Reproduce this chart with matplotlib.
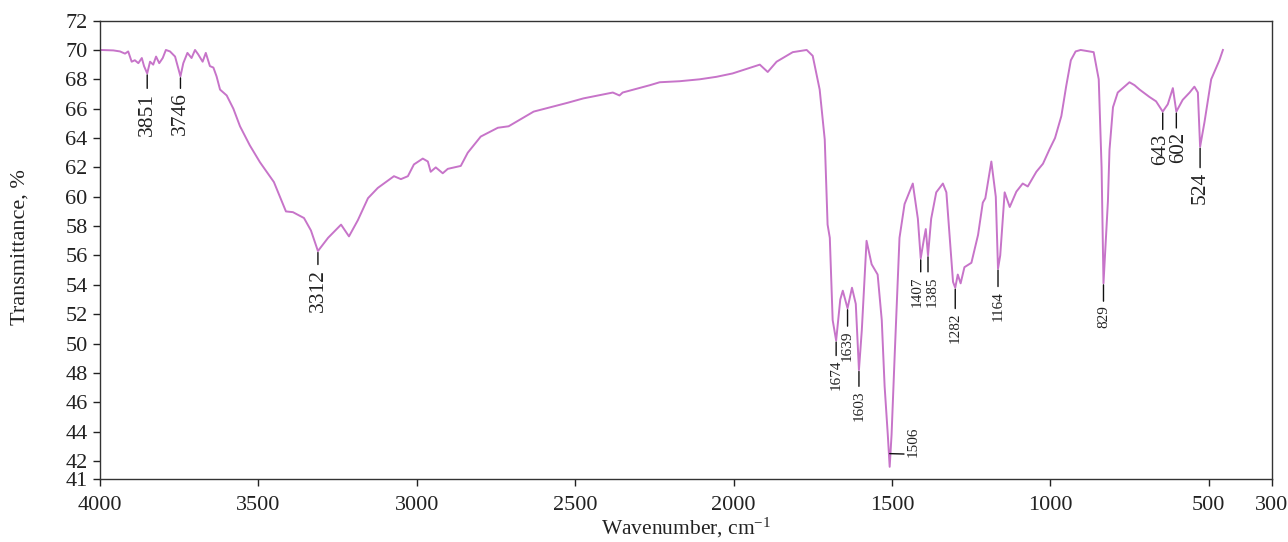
import numpy as np
import matplotlib
matplotlib.use("Agg")
import matplotlib.pyplot as plt

# ---------------- data ----------------
wavenumber = [
    4000, 3958, 3937, 3921, 3911, 3900, 3890, 3879, 3868, 3861, 3851, 3842,
    3832, 3823, 3813, 3802, 3792, 3779, 3763, 3746, 3737, 3724, 3711, 3700,
    3690, 3676, 3666, 3653, 3642, 3632, 3621, 3600, 3579, 3558, 3527, 3495,
    3451, 3413, 3391, 3356, 3334, 3312, 3280, 3239, 3214, 3186, 3154, 3123,
    3072, 3050, 3028, 3009, 2981, 2965, 2956, 2940, 2918, 2902, 2861, 2839,
    2798, 2744, 2710, 2631, 2524, 2474, 2381, 2360, 2350, 2264, 2233, 2170,
    2107, 2054, 2003, 1949, 1917, 1892, 1864, 1813, 1769, 1750, 1728, 1712,
    1703, 1696, 1687, 1676, 1663, 1655, 1640, 1626, 1614, 1604, 1595, 1580,
    1564, 1545, 1532, 1523, 1513, 1507, 1501, 1491, 1476, 1460, 1434, 1418,
    1409, 1399, 1393, 1386, 1376, 1360, 1339, 1328, 1318, 1307, 1300, 1292,
    1283, 1271, 1249, 1228, 1213, 1205, 1186, 1172, 1165, 1158, 1144, 1128,
    1107, 1087, 1071, 1044, 1023, 1002, 985, 965, 950, 935, 920, 904, 863,
    847, 838, 832, 818, 813, 802, 787, 750, 734, 718, 687, 666, 645, 629, 613,
    602, 582, 560, 545, 534, 527, 513, 492, 466, 455,
]
transmittance = [
    70.0, 69.97, 69.9, 69.75, 69.9, 69.2, 69.3, 69.1, 69.45, 68.9, 68.4, 69.2,
    69.0, 69.55, 69.1, 69.45, 70.0, 69.9, 69.55, 68.2, 69.1, 69.8, 69.45, 70.0,
    69.7, 69.2, 69.8, 68.9, 68.8, 68.2, 67.3, 66.9, 66.0, 64.8, 63.5, 62.35,
    61.0, 59.0, 58.95, 58.55, 57.7, 56.3, 57.2, 58.1, 57.3, 58.4, 59.9, 60.6,
    61.4, 61.2, 61.4, 62.2, 62.6, 62.4, 61.7, 62.0, 61.6, 61.9, 62.1, 63.0,
    64.1, 64.7, 64.8, 65.8, 66.4, 66.7, 67.1, 66.9, 67.1, 67.6, 67.8, 67.87,
    68.0, 68.17, 68.4, 68.78, 69.0, 68.5, 69.2, 69.85, 70.0, 69.6, 67.3, 63.9,
    58.1, 57.2, 51.6, 50.2, 53.0, 53.6, 52.4, 53.8, 52.7, 48.2, 50.9, 57.0,
    55.4, 54.7, 51.6, 47.1, 43.8, 41.6, 43.8, 49.3, 57.2, 59.5, 60.9, 58.5,
    55.8, 57.1, 57.8, 56.0, 58.5, 60.3, 60.9, 60.3, 57.4, 54.2, 53.8, 54.7,
    54.1, 55.2, 55.5, 57.4, 59.6, 59.9, 62.4, 60.0, 55.1, 56.0, 60.3, 59.3,
    60.35, 60.9, 60.7, 61.7, 62.25, 63.25, 64.0, 65.5, 67.5, 69.3, 69.9, 70.0,
    69.85, 68.0, 62.0, 54.1, 59.7, 63.2, 66.1, 67.1, 67.8, 67.6, 67.3, 66.8,
    66.5, 65.8, 66.3, 67.4, 65.8, 66.6, 67.1, 67.5, 67.1, 63.4, 65.1, 68.0,
    69.3, 70.0,
]

# peak labels: text, wavenumber of leader, transmittance where text starts
peak_labels = ["3851", "3746", "3312", "1674", "1639", "1603", "1407", "1385",
               "1282", "1164", "829", "643", "602", "524"]
peak_pos = [3851, 3746, 3312, 1676, 1640, 1604, 1409, 1386, 1300, 1165, 832,
            645, 602, 527]
label_top = [67.1, 67.1, 55.1, 48.9, 50.9, 46.8, 54.6, 54.6, 52.1, 53.6, 52.6,
             64.3, 64.4, 61.7]
label_size = [15.5, 15.5, 15.5, 11, 11, 11, 11, 11, 11, 11, 11, 15, 15, 15.5]
# where the leader meets the text (fraction across the text box)
label_attach = [0.5, 0.5, 0.5, 0.5, 0.5, 0.5, 0.8, 0.2, 0.5, 0.5, 0.5,
                0.6, 0.4, 0.5]

xticks = [4000, 3500, 3000, 2500, 2000, 1500, 1000, 500, 300]
ytick_labels = ["41", "42", "44", "46", "48", "50", "52", "54", "56", "58",
                "60", "62", "64", "66", "68", "70", "72"]
y_bottom = 40.75   # the reference draws its "41" tick at the bottom spine
yticks = [y_bottom] + [float(v) for v in ytick_labels[1:]]

# ---------------- style ----------------
plt.rcParams['font.family'] = ['Liberation Serif', 'DejaVu Serif']
plt.rcParams['mathtext.fontset'] = 'custom'
plt.rcParams['mathtext.rm'] = 'Liberation Serif'
plt.rcParams['mathtext.default'] = 'regular'

fig = plt.figure(figsize=(12.88, 5.42), dpi=100)
ax = fig.add_axes([100 / 1288, 1 - 479.3 / 542, 1172 / 1288, 458.7 / 542])

w = np.array(wavenumber, dtype=float)
t = np.array(transmittance, dtype=float)
ax.plot(w, t, color='#c774c9', lw=1.4, solid_joinstyle='round')

ax.set_xlim(4000, 300)
ax.set_ylim(y_bottom, 72)
ax.set_xticks(xticks)
ax.set_yticks(yticks)
ax.set_xticklabels([str(v) for v in xticks])
ax.set_yticklabels(ytick_labels)
ax.tick_params(axis='both', direction='out', length=5, width=1.0,
               labelsize=16, colors='#222222')
ax.tick_params(axis='x', pad=7)
ax.tick_params(axis='y', pad=4)
for s in ax.spines.values():
    s.set_linewidth(1.0)
    s.set_color('#333333')

ax.set_xlabel(r'Wavenumber, cm$^{-1}$', fontsize=15.5, color='#222222')
ax.set_ylabel('Transmittance, %', fontsize=16, color='#222222')
ax.xaxis.set_label_coords(0.5, -0.079)
ax.yaxis.set_label_coords(-0.0597, 0.506)

# ---------------- peak annotations ----------------
asc = np.argsort(w)
fig.canvas.draw()
for txt, px, ty, fs, rp in zip(peak_labels, peak_pos, label_top, label_size,
                               label_attach):
    ydip = np.interp(px, w[asc], t[asc]) - 0.1
    tx = ax.annotate(txt, xy=(px, ydip), xytext=(px, ty), textcoords='data',
                     rotation=90, ha='center', va='top', fontsize=fs,
                     color='#222222',
                     arrowprops=dict(arrowstyle='-', color='#111111', lw=1.0,
                                     shrinkA=1.0, shrinkB=0, relpos=(rp, 1.0)))
    if rp != 0.5:
        # shift the text sideways so that the leader stays vertical
        bb = tx.get_window_extent(renderer=fig.canvas.get_renderer())
        x0, y0 = ax.transData.transform((px, ty))
        newx, _ = ax.transData.inverted().transform(
            (x0 + (0.5 - rp) * bb.width, y0))
        tx.xyann = (newx, ty)

# 1506 label with a horizontal leader
ax.annotate("1506", xy=(1507, 42.5), xytext=(1453, 42.3), textcoords='data',
            rotation=90, ha='left', va='bottom', fontsize=11, color='#222222',
            arrowprops=dict(arrowstyle='-', color='#111111', lw=1.0,
                            shrinkA=0, shrinkB=0, relpos=(0.0, 0.08)))

fig.savefig('out.png', dpi=100)
